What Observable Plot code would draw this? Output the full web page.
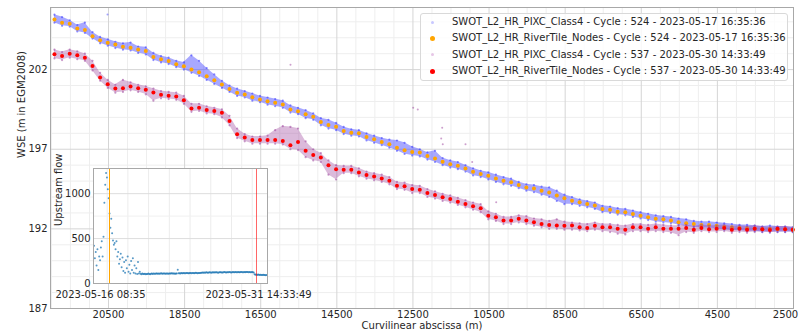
<!DOCTYPE html>
<html>
<head>
<meta charset="utf-8">
<script src="https://cdn.jsdelivr.net/npm/d3@7"></script>
<script src="https://cdn.jsdelivr.net/npm/@observablehq/plot@0.6"></script>
<style>
  body { margin: 0; background: #fff; }
  #chart { position: relative; width: 803px; height: 333px; font-family: "DejaVu Sans", sans-serif; }
  #chart svg { position: absolute; overflow: visible; }
  .legend { position: absolute; left: 420px; top: 13px; width: 368px; height: 68px; box-sizing: border-box;
            border: 1px solid #d9d9d9; border-radius: 3px; background: rgba(255,255,255,0.8);
            font-size: 10px; color: #262626; }
  .legend .row { position: absolute; left: 0; height: 16px; line-height: 16px; white-space: nowrap; }
  .legend .sw { position: absolute; border-radius: 50%; }
  .legend .lab { position: absolute; left: 31px; top: 0; }
</style>
</head>
<body>
<div id="chart"></div>
<script>
// Node abscissae along the reach (m), one node every 200 m
const nodeAbscissa = d3.range(21920, 2500, -200);

// Cycle 524 (2023-05-17 16:35:36): RiverTile node WSE and PIXC cloud envelope (m)
const wse524 = [205.14,204.94,204.88,204.58,204.48,204.10,203.85,203.69,203.58,203.44,
  203.38,203.27,203.17,202.79,202.65,202.54,202.33,202.21,202.00,201.83,
  201.58,201.33,201.06,200.79,200.54,200.44,200.27,200.13,200.02,199.92,
  199.81,199.50,199.39,199.19,199.04,198.71,198.52,198.42,198.14,198.04,
  198.00,197.77,197.63,197.46,197.31,197.10,196.94,196.83,196.79,196.58,
  196.42,196.21,196.06,195.96,195.79,195.58,195.44,195.33,195.17,195.02,
  194.92,194.75,194.60,194.54,194.39,194.29,194.10,193.92,193.77,193.67,
  193.56,193.46,193.25,193.20,193.08,193.04,192.94,192.83,192.73,192.63,
  192.60,192.52,192.42,192.36,192.31,192.25,192.24,192.20,192.14,192.10,
  192.07,192.04,192.02,191.98,192.00,191.97,191.98,191.95];
const pixc524Hi = [205.45,205.30,205.10,204.80,204.95,204.35,204.05,203.90,203.75,203.65,
  203.70,203.45,203.40,203.05,202.85,202.75,202.55,202.45,202.90,202.55,
  202.10,201.70,201.30,201.00,200.80,200.65,200.50,200.35,200.25,200.15,
  200.05,199.75,199.60,199.45,199.25,198.95,198.85,198.65,198.40,198.25,
  198.20,198.00,197.85,197.70,197.60,197.55,197.40,197.15,197.00,196.80,
  196.90,196.45,196.30,196.20,196.00,195.80,195.65,195.55,195.40,195.25,
  195.15,194.95,194.80,194.75,194.65,194.60,194.40,194.15,194.00,193.85,
  193.75,193.65,193.45,193.40,193.30,193.25,193.15,193.05,192.95,192.85,
  192.80,192.75,192.65,192.60,192.50,192.45,192.45,192.40,192.35,192.30,
  192.25,192.25,192.20,192.15,192.20,192.15,192.15,192.10];
const pixc524Lo = [204.95,204.75,204.70,204.40,204.30,203.95,203.65,203.50,203.35,203.25,
  203.20,203.05,202.95,202.60,202.45,202.35,202.15,202.00,201.80,201.60,
  201.35,201.10,200.85,200.60,200.35,200.25,200.05,199.95,199.80,199.70,
  199.60,199.30,199.20,198.95,198.85,198.50,198.30,198.20,197.95,197.85,
  197.80,197.55,197.40,197.25,197.10,196.90,196.70,196.60,196.55,196.35,
  196.20,196.00,195.85,195.75,195.60,195.35,195.25,195.10,194.95,194.80,
  194.70,194.55,194.40,194.30,194.15,194.00,193.75,193.55,193.55,193.45,
  193.35,193.25,193.05,193.00,192.90,192.85,192.75,192.65,192.55,192.45,
  192.40,192.35,192.25,192.15,192.10,192.05,192.05,192.00,191.95,191.90,
  191.90,191.85,191.85,191.80,191.80,191.80,191.80,191.80];

// Cycle 537 (2023-05-30 14:33:49): RiverTile node WSE and PIXC cloud envelope (m)
const wse537 = [202.96,202.85,203.00,202.90,202.75,202.23,201.50,201.08,200.81,200.83,
  200.94,200.83,200.73,200.56,200.42,200.36,200.31,200.08,199.56,199.60,
  199.46,199.40,199.29,198.77,197.94,197.73,197.58,197.58,197.58,197.58,
  197.52,197.25,197.46,196.90,196.64,196.48,196.00,195.75,195.71,195.71,
  195.54,195.38,195.29,195.17,195.02,194.71,194.67,194.50,194.46,194.25,
  194.13,193.98,193.88,193.71,193.56,193.42,193.29,192.83,192.73,192.52,
  192.52,192.63,192.52,192.42,192.31,192.25,192.21,192.20,192.21,192.10,
  192.05,192.20,192.10,192.10,192.00,191.94,192.10,192.10,192.00,192.10,
  192.00,192.00,192.00,192.05,191.95,192.05,191.98,192.00,192.05,191.95,
  192.00,191.95,192.00,191.98,191.93,192.00,191.97,191.95];
const pixc537Hi = [203.25,203.10,203.25,203.15,203.00,202.55,201.80,201.35,201.05,201.35,
  201.20,201.05,200.95,200.80,200.65,200.60,200.55,200.35,199.85,199.85,
  199.70,199.60,199.50,199.10,198.30,197.95,197.80,197.80,197.85,198.20,
  198.45,198.40,198.30,197.50,197.00,196.75,196.30,196.00,195.95,195.95,
  195.80,195.60,195.50,195.40,195.25,194.95,194.90,194.75,194.70,194.50,
  194.35,194.20,194.10,193.95,193.80,193.65,193.55,193.10,192.95,192.75,
  192.75,192.85,192.80,192.65,192.60,192.50,192.60,192.45,192.40,192.35,
  192.30,192.40,192.30,192.30,192.25,192.20,192.30,192.30,192.25,192.30,
  192.25,192.20,192.20,192.25,192.15,192.25,192.20,192.20,192.25,192.15,
  192.20,192.15,192.20,192.15,192.10,192.15,192.15,192.10];
const pixc537Lo = [202.70,202.60,202.75,202.65,202.55,201.95,201.30,200.85,200.55,200.60,
  200.70,200.60,200.45,200.05,200.20,200.15,200.10,199.85,199.35,199.40,
  199.25,199.20,199.00,198.50,197.70,197.50,197.35,197.35,197.35,197.35,
  197.30,197.00,196.95,196.50,196.30,196.20,195.40,195.10,195.50,195.50,
  195.30,195.15,195.05,194.95,194.80,194.50,194.45,194.25,194.25,194.00,
  193.90,193.75,193.65,193.50,193.35,193.20,193.05,192.60,192.50,192.30,
  192.30,192.40,192.30,192.20,192.10,192.00,192.00,191.95,191.95,191.90,
  191.85,191.95,191.85,191.80,191.70,191.65,191.85,191.85,191.80,191.85,
  191.80,191.75,191.60,191.80,191.75,191.85,191.80,191.80,191.85,191.75,
  191.80,191.75,191.80,191.80,191.75,191.80,191.80,191.80];

// Isolated PIXC pixels away from the main clouds
const outlier524X = [20526];
const outlier524Y = [205.46];
const outlier537X = [15718, 12493, 12373, 11731, 11757, 11716, 11119, 10943, 10312];
const outlier537Y = [202.31, 199.60, 199.50, 198.35, 197.67, 197.31, 197.31, 196.20, 193.67];

// Axis ticks
const xTicks = [20500, 18500, 16500, 14500, 12500, 10500, 8500, 6500, 4500, 2500];
const yTicks = [187, 192, 197, 202];
const xMinorTicks = d3.range(22000, 2500, -500).filter(v => !xTicks.includes(v));
const yMinorTicks = d3.range(188, 206).filter(v => !yTicks.includes(v));

// Legend entries
const legendLabels = [
  "SWOT_L2_HR_PIXC_Class4 - Cycle : 524 - 2023-05-17 16:35:36",
  "SWOT_L2_HR_RiverTile_Nodes - Cycle : 524 - 2023-05-17 16:35:36",
  "SWOT_L2_HR_PIXC_Class4 - Cycle : 537 - 2023-05-30 14:33:49",
  "SWOT_L2_HR_RiverTile_Nodes - Cycle : 537 - 2023-05-30 14:33:49"
];

// Inset: upstream flow, one value every 2 hours from 2023-05-15 17:30 UTC
const flowStart = "2023-05-15T17:30:00Z";
const flowStepHours = 2;
const upstreamFlow = [420,280,350,200,380,150,300,260,400,470,300,520,
  900,1100,1230,1180,1050,950,780,620,720,560,480,430,450,380,470,
  300,350,220,270,330,180,290,140,240,120,260,170,300,130,
  210,110,250,150,280,120,200,110,170,105,240,110,130,
  108,104,110,105,107,109,103,106,105,110,106,104,
  108,110,107,111,109,108,112,110,109,111,108,110,113,109,111,110,112,108,111,110,109,112,110,111,113,110,112,111,109,112,110,
  152,
  113,115,112,116,114,113,117,115,114,116,118,115,113,117,116,115,118,116,114,117,119,116,115,118,117,116,119,
  120,122,119,123,121,124,122,120,123,125,122,121,124,123,126,122,124,125,123,121,125,124,126,123,122,125,127,124,123,126,
  125,124,127,125,123,126,128,125,124,127,126,125,128,126,124,127,129,126,125,128,126,127,129,127,125,128,126,124,127,125,122,
  104,98,100,96,99,97,95,98,96,94,97,95,96,93,95];
const passTimes = ["2023-05-17T05:26:00Z", "2023-05-31T09:56:00Z"];
const insetTickTimes = ["2023-05-16T08:35:00Z", "2023-05-31T14:33:49Z"];
const insetTickLabels = ["2023-05-16 08:35", "2023-05-31 14:33:49"];
const insetYTicks = [0, 500, 1000];

// ---- build tables ----
const band = (hi, lo) => nodeAbscissa.map((x, i) => ({x, hi: hi[i], lo: lo[i]}));
const nodes = (w) => nodeAbscissa.map((x, i) => ({x, y: w[i]}));
const pts = (xs, ys) => xs.map((x, i) => ({x, y: ys[i]}));
const pixc524 = band(pixc524Hi, pixc524Lo);
const pixc537 = band(pixc537Hi, pixc537Lo);
const nodes524 = nodes(wse524);
const nodes537 = nodes(wse537);

const t0 = new Date(flowStart);
const flow = upstreamFlow.map((q, i) => ({t: d3.utcHour.offset(t0, i * flowStepHours), q}));
const tickDates = insetTickTimes.map(s => new Date(s));
const tickLabelOf = new Map(tickDates.map((d, i) => [+d, insetTickLabels[i]]));

const blue = "#2f2fff", purple = "#9b3f9b";
const font = {fontFamily: "DejaVu Sans", fontSize: "10px", color: "#262626", background: "transparent"};

// PIXC cloud: a shaded envelope with the edge pixels as dots
const pixcMarks = (data, color, opacity) => [
  Plot.areaY(data, {x: "x", y1: "lo", y2: "hi", fill: color, fillOpacity: opacity, curve: "linear"}),
  Plot.dot(data, {x: "x", y: "hi", r: 1.1, fill: color, fillOpacity: 0.55}),
  Plot.dot(data, {x: "x", y: "lo", r: 1.1, fill: color, fillOpacity: 0.55})
];

// the last abscissa label sits on the right edge; nudge it inward so it stays legible
const lastXTick = xTicks[xTicks.length - 1];

const main = Plot.plot({
  width: 803, height: 333,
  marginLeft: 50, marginRight: 10, marginTop: 7, marginBottom: 25,
  style: font,
  x: {domain: [22024, 2500]},
  y: {domain: [187, 205.9]},
  marks: [
    Plot.frame({fill: "white"}),
    Plot.ruleX(xMinorTicks, {stroke: "#eeeeee"}),
    Plot.ruleY(yMinorTicks, {stroke: "#eeeeee"}),
    Plot.ruleX(xTicks, {stroke: "#d5d5d5"}),
    Plot.ruleY(yTicks, {stroke: "#d5d5d5"}),
    // cycle 524
    ...pixcMarks(pixc524, blue, 0.42),
    Plot.dot(pts(outlier524X, outlier524Y), {x: "x", y: "y", r: 1, fill: blue, fillOpacity: 0.45}),
    Plot.dot(nodes524, {x: "x", y: "y", r: 2, fill: "orange"}),
    // cycle 537
    ...pixcMarks(pixc537, purple, 0.36),
    Plot.dot(pts(outlier537X, outlier537Y), {x: "x", y: "y", r: 1, fill: purple, fillOpacity: 0.5}),
    Plot.dot(nodes537, {x: "x", y: "y", r: 2, fill: "red"}),
    Plot.frame({stroke: "#a8a8a8"}),
    Plot.axisX(xTicks.filter(v => v !== lastXTick), {tickSize: 0, tickPadding: 2, tickFormat: d3.format("d"), label: null}),
    Plot.axisX([lastXTick], {tickSize: 0, tickPadding: 2, tickFormat: d3.format("d"), label: null, dx: -8}),
    Plot.axisY(yTicks, {tickSize: 0, tickPadding: 3, tickFormat: d3.format("d"), label: null}),
    Plot.text(["Curvilinear abscissa (m)"], {frameAnchor: "bottom", dy: 20, fill: "#262626"}),
    Plot.text(["WSE (m in EGM2008)"], {frameAnchor: "left", rotate: -90, dx: -29, fill: "#262626"})
  ]
});

const inset = Plot.plot({
  width: 280, height: 145,
  marginLeft: 49, marginRight: 57, marginTop: 8, marginBottom: 22,
  style: font,
  x: {type: "utc", domain: [new Date("2023-05-15T16:21:00Z"), new Date("2023-06-01T11:24:00Z")]},
  y: {domain: [0, 1280]},
  marks: [
    Plot.frame({fill: "white"}),
    Plot.ruleX(d3.utcDay.every(2).range(new Date("2023-05-16T00:00:00Z"), new Date("2023-06-01T00:00:00Z")), {stroke: "#ececec"}),
    Plot.ruleY([250, 750], {stroke: "#f0f0f0"}),
    Plot.ruleY(insetYTicks, {stroke: "#dddddd"}),
    Plot.dot(flow, {x: "t", y: "q", r: 1, fill: "#1f77b4", fillOpacity: 0.75}),
    Plot.ruleX([new Date(passTimes[0])], {stroke: "orange"}),
    Plot.ruleX([new Date(passTimes[1])], {stroke: "red", strokeOpacity: 0.6}),
    Plot.frame({stroke: "#a8a8a8"}),
    Plot.axisY(insetYTicks, {tickSize: 0, tickPadding: 3, tickFormat: d3.format("d"), label: null}),
    Plot.axisX(tickDates, {tickSize: 0, tickPadding: 7, tickFormat: d => tickLabelOf.get(+d), label: null}),
    Plot.text(["Upstream flow"], {frameAnchor: "left", rotate: -90, dx: -35, fill: "#262626"})
  ]
});

const chart = document.getElementById("chart");
main.style.left = "0px"; main.style.top = "0px";
inset.style.left = "44px"; inset.style.top = "160px";
chart.append(main, inset);

// Legend box
const legend = document.createElement("div");
legend.className = "legend";
const swatches = [
  {color: "#c8c8ff", size: 3},
  {color: "orange", size: 5},
  {color: "#e6c6e6", size: 3},
  {color: "red", size: 5}
];
legendLabels.forEach((label, i) => {
  const row = document.createElement("div");
  row.className = "row";
  row.style.top = (i * 16.4) + "px";
  row.style.width = "100%";
  const sw = document.createElement("span");
  sw.className = "sw";
  const s = swatches[i].size;
  sw.style.width = s + "px"; sw.style.height = s + "px";
  sw.style.left = (11 - s / 2) + "px"; sw.style.top = (8 - s / 2) + "px";
  sw.style.background = swatches[i].color;
  const lab = document.createElement("span");
  lab.className = "lab";
  lab.textContent = label;
  row.append(sw, lab);
  legend.append(row);
});
chart.append(legend);
</script>
</body>
</html>
